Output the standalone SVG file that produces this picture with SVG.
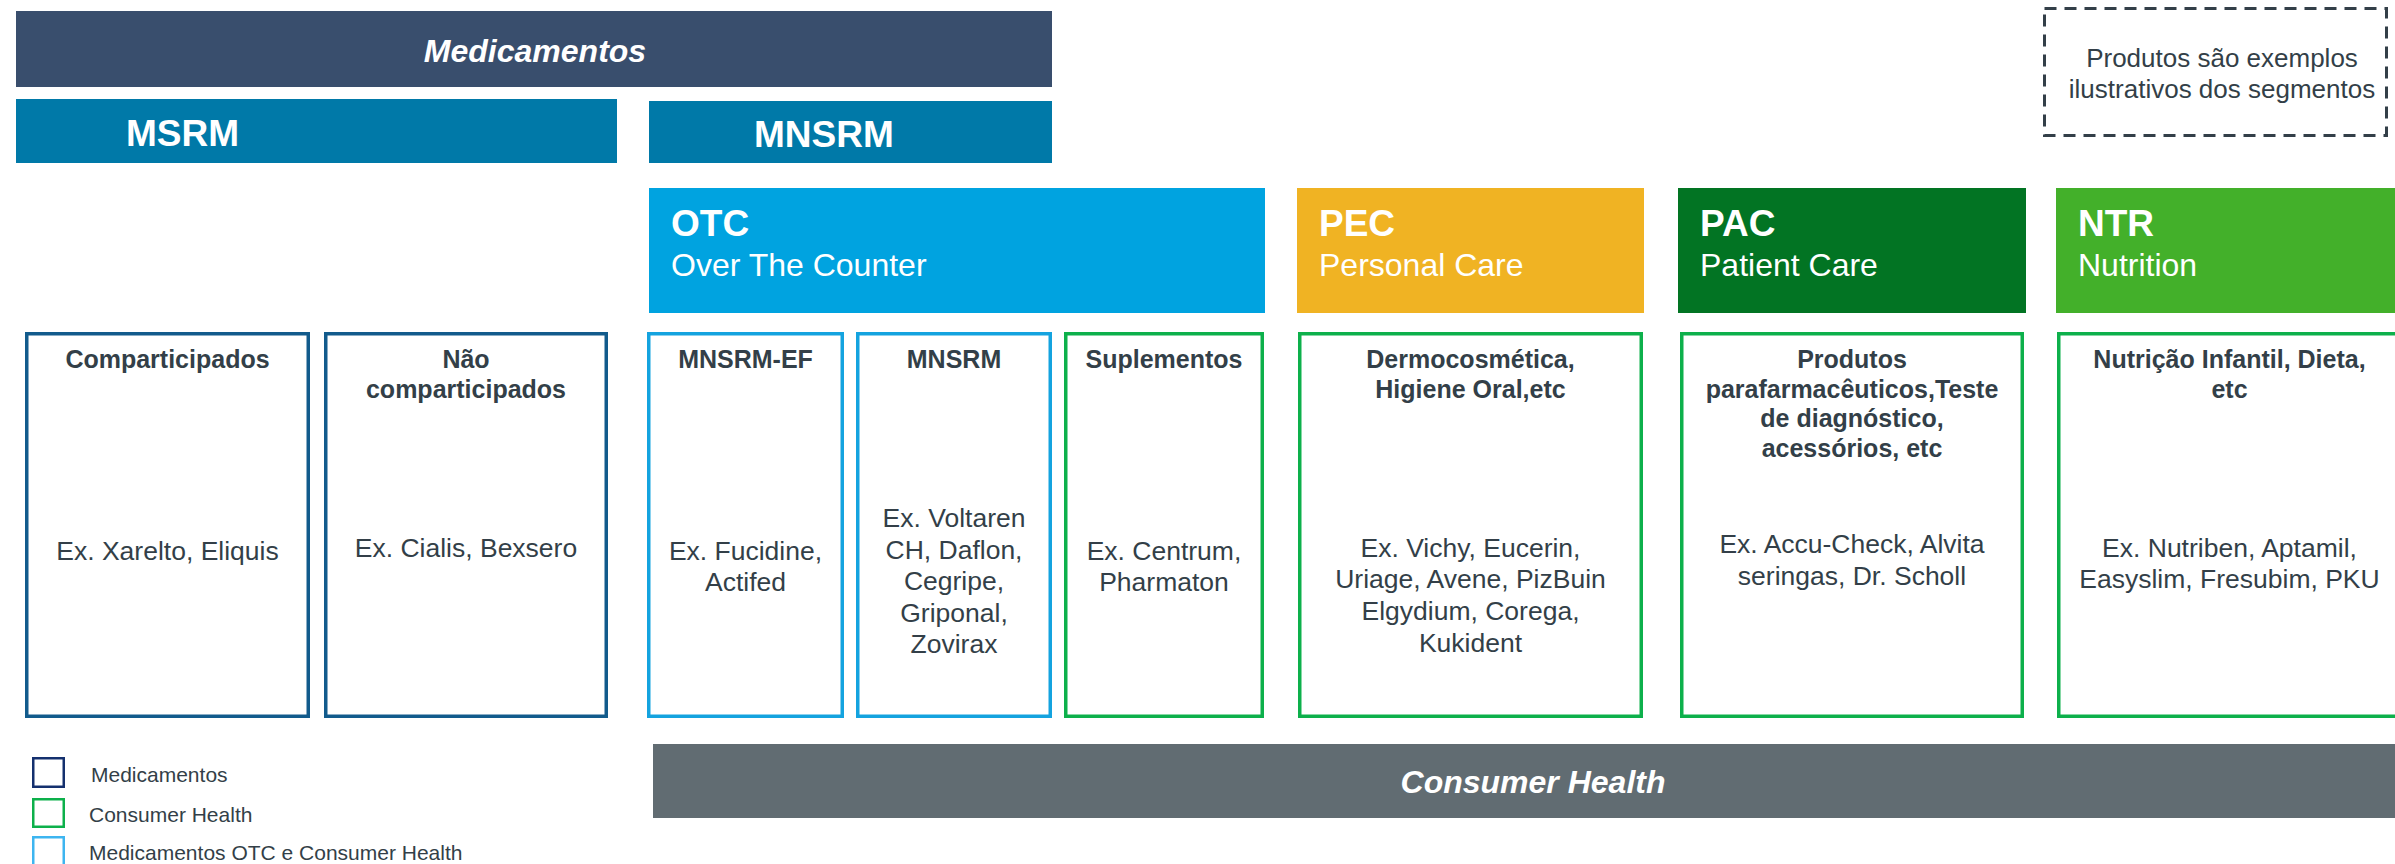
<svg xmlns="http://www.w3.org/2000/svg" width="2395" height="864" viewBox="0 0 2395 864">
<style>
text{font-family:"Liberation Sans",Arial,Helvetica,sans-serif}
.wb{fill:#fff;font-weight:bold}
.bi{fill:#fff;font-weight:bold;font-style:italic;font-size:32px}
.big{font-size:37px}
.sub{fill:#fff;font-size:32px}
.hd{fill:#333F48;font-weight:bold;font-size:25px;text-anchor:middle}
.bd{fill:#333F48;font-size:26.5px;text-anchor:middle}
.lg{fill:#333F48;font-size:21px}
.bx{fill:#fff;stroke-width:3.5}
.med{stroke:#125B8C}
.otc{stroke:#14A3DF}
.ch{stroke:#0DB04B}
</style>
<g id="bar-medicamentos"><rect x="16" y="11" width="1036" height="76" fill="#394E6D"/><text class="bi" x="535" y="62" text-anchor="middle">Medicamentos</text></g>
<g id="bar-msrm"><rect x="16" y="99" width="601" height="64" fill="#0079A8"/><text class="wb big" x="126" y="146">MSRM</text></g>
<g id="bar-mnsrm"><rect x="649" y="101" width="403" height="62" fill="#0079A8"/><text class="wb big" x="754" y="147">MNSRM</text></g>
<g id="note"><rect x="2044.5" y="8.5" width="342" height="127" fill="none" stroke="#333F48" stroke-width="3" stroke-dasharray="12 8"/><text x="2222" y="67" fill="#333F48" font-size="26" text-anchor="middle">Produtos são exemplos</text><text x="2222" y="98" fill="#333F48" font-size="26" text-anchor="middle">ilustrativos dos segmentos</text></g>
<g id="seg-otc"><rect x="649" y="188" width="616" height="125" fill="#00A3E0"/><text class="wb big" x="671" y="236">OTC</text><text class="sub" x="671" y="276">Over The Counter</text></g>
<g id="seg-pec"><rect x="1297" y="188" width="347" height="125" fill="#F0B323"/><text class="wb big" x="1319" y="236">PEC</text><text class="sub" x="1319" y="276">Personal Care</text></g>
<g id="seg-pac"><rect x="1678" y="188" width="348" height="125" fill="#027423"/><text class="wb big" x="1700" y="236">PAC</text><text class="sub" x="1700" y="276">Patient Care</text></g>
<g id="seg-ntr"><rect x="2056" y="188" width="339" height="125" fill="#43B02A"/><text class="wb big" x="2078" y="236">NTR</text><text class="sub" x="2078" y="276">Nutrition</text></g>
<g id="box-comparticipados"><rect class="bx med" x="26.75" y="333.75" width="281.5" height="382.5"/><text class="hd" x="167.5" y="368">Comparticipados</text><text class="bd" x="167.5" y="560">Ex. Xarelto, Eliquis</text></g>
<g id="box-nao-comparticipados"><rect class="bx med" x="325.75" y="333.75" width="280.5" height="382.5"/><text class="hd" x="466" y="368">Não</text><text class="hd" x="466" y="398">comparticipados</text><text class="bd" x="466" y="557">Ex. Cialis, Bexsero</text></g>
<g id="box-mnsrm-ef"><rect class="bx otc" x="648.75" y="333.75" width="193.5" height="382.5"/><text class="hd" x="745.5" y="368">MNSRM-EF</text><text class="bd" x="745.5" y="560">Ex. Fucidine,</text><text class="bd" x="745.5" y="591">Actifed</text></g>
<g id="box-mnsrm"><rect class="bx otc" x="857.75" y="333.75" width="192.5" height="382.5"/><text class="hd" x="954" y="368">MNSRM</text><text class="bd" x="954" y="527">Ex. Voltaren</text><text class="bd" x="954" y="559">CH, Daflon,</text><text class="bd" x="954" y="590">Cegripe,</text><text class="bd" x="954" y="622">Griponal,</text><text class="bd" x="954" y="653">Zovirax</text></g>
<g id="box-suplementos"><rect class="bx ch" x="1065.75" y="333.75" width="196.5" height="382.5"/><text class="hd" x="1164" y="368">Suplementos</text><text class="bd" x="1164" y="560">Ex. Centrum,</text><text class="bd" x="1164" y="591">Pharmaton</text></g>
<g id="box-dermocosmetica"><rect class="bx ch" x="1299.75" y="333.75" width="341.5" height="382.5"/><text class="hd" x="1470.5" y="368">Dermocosmética,</text><text class="hd" x="1470.5" y="398">Higiene Oral,etc</text><text class="bd" x="1470.5" y="557">Ex. Vichy, Eucerin,</text><text class="bd" x="1470.5" y="588">Uriage, Avene, PizBuin</text><text class="bd" x="1470.5" y="620">Elgydium, Corega,</text><text class="bd" x="1470.5" y="652">Kukident</text></g>
<g id="box-produtos"><rect class="bx ch" x="1681.75" y="333.75" width="340.5" height="382.5"/><text class="hd" x="1852" y="368">Produtos</text><text class="hd" x="1852" y="397.5">parafarmacêuticos,Teste</text><text class="hd" x="1852" y="427">de diagnóstico,</text><text class="hd" x="1852" y="456.5">acessórios, etc</text><text class="bd" x="1852" y="553">Ex. Accu-Check, Alvita</text><text class="bd" x="1852" y="585">seringas, Dr. Scholl</text></g>
<g id="box-nutricao"><rect class="bx ch" x="2058.75" y="333.75" width="341.5" height="382.5"/><text class="hd" x="2229.5" y="368">Nutrição Infantil, Dieta,</text><text class="hd" x="2229.5" y="398">etc</text><text class="bd" x="2229.5" y="557">Ex. Nutriben, Aptamil,</text><text class="bd" x="2229.5" y="588">Easyslim, Fresubim, PKU</text></g>
<g id="bar-consumer-health"><rect x="653" y="744" width="1742" height="74" fill="#616C72"/><text class="bi" x="1533" y="793" text-anchor="middle">Consumer Health</text></g>
<g id="legend">
<rect x="33.25" y="758.25" width="30.5" height="28.5" fill="none" stroke="#14306E" stroke-width="2.5"/><text class="lg" x="91" y="782">Medicamentos</text>
<rect x="33.25" y="799.25" width="30.5" height="27.5" fill="none" stroke="#0DB04B" stroke-width="2.5"/><text class="lg" x="89" y="822">Consumer Health</text>
<rect x="33.25" y="837.25" width="30.5" height="30" fill="none" stroke="#3DB5F0" stroke-width="2.5"/><text class="lg" x="89" y="860">Medicamentos OTC e Consumer Health</text>
</g>
<g id="connectors"/>
</svg>
